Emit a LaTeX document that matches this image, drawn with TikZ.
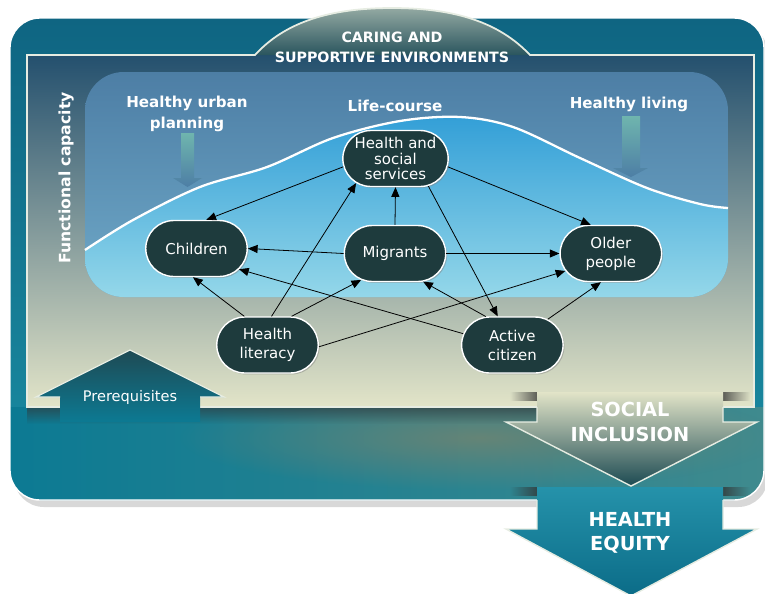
\documentclass[tikz,border=0pt]{standalone}
\usepackage{fontspec}
\setmainfont{DejaVu Sans}
\usetikzlibrary{positioning,arrows.meta,shapes.misc,shadows,fadings}

\definecolor{boxtop}{HTML}{0F6582}
\definecolor{boxbot}{HTML}{1A8CA2}
\definecolor{bandleft}{HTML}{0C7A93}
\definecolor{bandright}{HTML}{3F8A8E}
\definecolor{bandolive}{HTML}{6F8472}
\definecolor{frametop}{HTML}{24506E}
\definecolor{framemid}{HTML}{84B6C8}
\definecolor{framebot}{HTML}{E2E4C8}
\definecolor{archtop}{HTML}{93A9A2}
\definecolor{archbot}{HTML}{2A555E}
\definecolor{coursetop}{HTML}{4D7EA5}
\definecolor{coursebot}{HTML}{6FA9C8}
\definecolor{skytop}{HTML}{339FD7}
\definecolor{skybot}{HTML}{94D7E9}
\definecolor{nodefill}{HTML}{1E3B3D}
\definecolor{edgewhite}{HTML}{E6ECE2}
\definecolor{smallteal}{HTML}{6FB5AE}
\definecolor{prereqtop}{HTML}{1E4A54}
\definecolor{inclmid}{HTML}{6E7666}
\definecolor{inclbot}{HTML}{1C4A52}
\definecolor{equitytop}{HTML}{2592AA}
\definecolor{equitybot}{HTML}{0B6C88}

\tikzfading[name=fadedown, top color=transparent!0, bottom color=transparent!100]
\tikzfading[name=darkright, left color=transparent!100, right color=transparent!0]
\tikzfading[name=darkleft, left color=transparent!0, right color=transparent!100]
\tikzfading[name=softblob, inner color=transparent!15, outer color=transparent!100]

\newcommand\lifecurve{plot[smooth, tension=0.55] coordinates {(85,250) (133,220) (200,187) (267,167) (333,138) (400,121) (460,117) (513,127) (580,158) (647,188) (700,204) (728,208)}}

\tikzset{
  agent/.style={rounded rectangle, fill=nodefill, draw=white, line width=0.8pt,
    text=white, align=center, minimum width=2.1cm, minimum height=1.12cm,
    inner sep=1pt, font=\fontsize{8.5}{10.8}\selectfont,
    drop shadow={shadow xshift=0.8pt, shadow yshift=-0.8pt, opacity=0.45}},
  link/.style={-{Triangle[length=5.5pt,width=4.6pt]}, line width=0.45pt, black},
  heading/.style={text=white, align=center, font=\bfseries\fontsize{8.6}{11.6}\selectfont},
  bigtext/.style={text=white, align=center, font=\bfseries\fontsize{11}{14}\selectfont},
  smallarrow/.style={top color=smallteal, bottom color=coursetop},
  notch/.style={fill=black!80, opacity=0.75, path fading=#1},
}

\begin{document}
\begin{tikzpicture}[x=0.02cm, y=-0.02cm]
\useasboundingbox (0,0) rectangle (765,593);

% outer box
\fill[black!30, opacity=0.5, rounded corners=17pt] (14,24) rectangle (768,507);
\path[rounded corners=17pt, top color=boxtop, bottom color=boxbot] (10,18) rectangle (764,500);
\begin{scope}
  \clip[rounded corners=17pt] (10,18) rectangle (764,500);
  \path[left color=bandleft, right color=bandright] (10,407) rectangle (764,500);
  \fill[bandolive, path fading=softblob] (180,385) rectangle (780,490);
  \fill[black!80, opacity=0.6, path fading=fadedown] (27,407) rectangle (537,424);
\end{scope}
\draw[white, line width=0.8pt, rounded corners=17pt] (10,18) rectangle (764,500);

% inner frame and arch
\path[top color=frametop, middle color=framemid, bottom color=framebot] (27,55) rectangle (754,407);
\path[top color=archtop, bottom color=archbot] (255,55) .. controls (285,22) and (330,8) .. (392,8)
  .. controls (454,8) and (499,22) .. (530,55) -- cycle;
\draw[edgewhite, line width=1pt] (27,55) -- (255,55) .. controls (285,22) and (330,8) .. (392,8)
  .. controls (454,8) and (499,22) .. (530,55) -- (754,55) -- (754,407) -- (27,407) -- cycle;

% life-course area
\path[rounded corners=22pt, top color=coursetop, bottom color=coursebot] (85,72) rectangle (728,297);
\begin{scope}
  \clip[rounded corners=22pt] (85,72) rectangle (728,297);
  \path[top color=skytop, bottom color=skybot] \lifecurve -- (728,297) -- (85,297) -- cycle;
\end{scope}
\draw[white, line width=1.3pt] \lifecurve;

% headings
\node[heading, font=\bfseries\fontsize{8.1}{11.3}\selectfont] (caring) at (392,47) {CARING AND\\SUPPORTIVE ENVIRONMENTS};
\node[heading] (urban) at (187,114) {Healthy urban\\planning};
\node[heading] (lifecourse) at (395,106) {Life-course};
\node[heading] (living) at (629,104) {Healthy living};
\node[heading, rotate=90, font=\bfseries\fontsize{8.9}{11}\selectfont] (capacity) at (66,178) {Functional capacity};

% small arrows
\path[smallarrow] (181,133) -- (194,133) -- (194,178) -- (202,178) -- (187.5,187)
  -- (173,178) -- (181,178) -- cycle;
\path[smallarrow] (622,116) -- (640,116) -- (640,168) -- (648,168) -- (631,177)
  -- (613,168) -- (622,168) -- cycle;

% nodes
\node[agent, font=\fontsize{8.5}{8.9}\selectfont] (hss) at (395.5,158.5) {Health and\\social\\services};
\node[agent] (children) at (196.5,248.5) {Children};
\node[agent] (migrants) at (395,253.5) {Migrants};
\node[agent, right=2.26cm of migrants] (older) {Older\\people};
\node[agent] (literacy) at (267.5,345) {Health\\literacy};
\node[agent, right=2.84cm of literacy] (active) {Active\\citizen};

\path[link]
  (hss.189) edge (children.71)
  (hss.351) edge (older.125)
  (migrants.north) edge (hss.south)
  (migrants.west) edge (children.east)
  (migrants.east) edge (older.west)
  (hss.320) edge (active.117)
  (literacy.129) edge (children.263)
  (literacy.82) edge (hss.212)
  (literacy.50) edge (migrants.218)
  (literacy.358) edge (older.201)
  (active.167) edge (children.334)
  (active.133) edge (migrants.315)
  (active.36) edge (older.251);

% prerequisites
\path[top color=prereqtop, bottom color=bandleft]
  (130,350) -- (224,397) -- (200,397) -- (200,422) -- (60,422) -- (60,397) -- (36,397) -- cycle;
\draw[edgewhite, line width=0.7pt] (60,397) -- (36,397) -- (130,350) -- (224,397) -- (200,397);
\node[text=white, font=\fontsize{8.3}{10}\selectfont] (prereq) at (130,397) {Prerequisites};

% social inclusion
\fill[notch=darkright] (510,392) rectangle (537,401);
\fill[notch=darkleft] (723,392) rectangle (750,401);
\path[top color=framebot, middle color=inclmid, bottom color=inclbot]
  (537,392) -- (723,392) -- (723,422) -- (757,422) -- (631,486) -- (506,422) -- (537,422) -- cycle;
\draw[edgewhite, line width=0.8pt] (537,407) -- (537,422) -- (506,422) -- (631,486) -- (757,422)
  -- (723,422) -- (723,407);
\node[bigtext] (inclusion) at (630,422) {SOCIAL\\INCLUSION};

% health equity
\fill[notch=darkright] (510,487) rectangle (537,496);
\fill[notch=darkleft] (723,487) rectangle (750,496);
\path[top color=equitytop, bottom color=equitybot]
  (537,487) -- (723,487) -- (723,529) -- (757,529) -- (631,596) -- (506,529) -- (537,529) -- cycle;
\draw[edgewhite, line width=0.8pt] (537,500) -- (537,529) -- (506,529) -- (631,596) -- (757,529)
  -- (723,529) -- (723,500);
\node[bigtext] (equity) at (630,533) {HEALTH\\EQUITY};
\end{tikzpicture}
\end{document}
